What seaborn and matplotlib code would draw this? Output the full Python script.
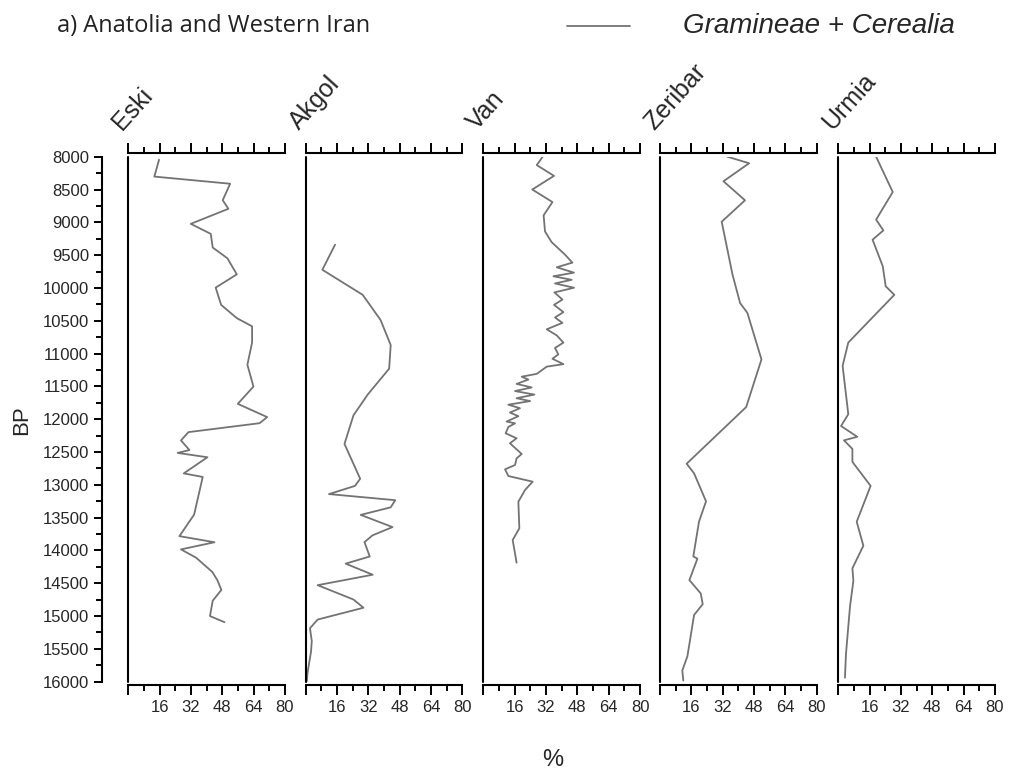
import pandas as pd
import seaborn as sns
import matplotlib.pyplot as plt
from matplotlib.lines import Line2D
from matplotlib.ticker import MultipleLocator

# pollen percentages (Gramineae + Cerealia) vs age BP
sites = ["Eski", "Akgol", "Van", "Zeribar", "Urmia"]

eski_bp = [8046, 8303, 8412, 8663, 8794, 9023, 9176, 9384, 9548, 9793, 9995,
           10258, 10460, 10585, 10831, 11170, 11503, 11766, 11968, 12061, 12197,
           12323, 12470, 12514, 12580, 12826, 12880, 13454, 13782, 13875, 13984,
           14110, 14328, 14454, 14602, 14766, 15000, 15093]
eski_pct = [15.7, 13.3, 52.0, 48.2, 51.1, 31.9, 42.1, 43.1, 50.6, 55.4, 44.6,
            47.4, 55.4, 63.2, 63.2, 60.8, 63.9, 55.9, 70.9, 67.0, 30.7,
            26.9, 31.2, 25.2, 40.4, 28.3, 38.0, 33.6, 26.1, 44.0, 26.9,
            34.6, 42.9, 45.5, 47.5, 43.1, 41.7, 49.1]

akgol_bp = [9340, 9723, 10105, 10487, 10870, 11230, 11623, 11940, 12377, 12907,
            13016, 13141, 13234, 13343, 13458, 13644, 13770, 13873, 14092, 14201,
            14370, 14529, 14748, 14873, 15053, 15185, 15381, 15545, 15873, 15990]
akgol_pct = [15.0, 8.5, 29.1, 38.2, 43.4, 42.6, 31.7, 24.4, 19.8, 27.8,
             25.2, 11.9, 45.7, 43.4, 28.1, 44.3, 34.1, 30.0, 32.7, 20.4,
             34.2, 6.1, 24.4, 29.5, 6.1, 2.2, 3.1, 2.7, 0.9, 0.6]

van_bp = [8000, 8128, 8292, 8500, 8691, 8893, 9139, 9303, 9483, 9614, 9685,
          9767, 9822, 9876, 9931, 9997, 10068, 10177, 10258, 10368, 10450,
          10532, 10630, 10723, 10833, 10915, 11013, 11079, 11161, 11199, 11309,
          11352, 11396, 11462, 11516, 11571, 11625, 11680, 11724, 11779, 11833,
          11899, 11954, 12036, 12063, 12118, 12215, 12291, 12367, 12530, 12596,
          12698, 12764, 12866, 12952, 13079, 13257, 13663, 13841, 14187]
van_pct = [30.3, 27.3, 36.1, 25.0, 35.3, 30.8, 31.5, 34.9, 41.4, 45.5, 37.5,
           46.3, 35.8, 45.1, 36.6, 46.3, 36.3, 40.4, 36.1, 40.9, 36.6,
           40.4, 32.4, 37.5, 40.9, 36.6, 38.3, 35.3, 40.9, 32.4, 27.3,
           19.6, 23.0, 17.0, 24.7, 16.2, 26.1, 17.0, 23.9, 12.8, 18.7,
           13.6, 17.9, 11.9, 16.2, 12.8, 11.4, 17.0, 13.6, 19.6, 17.0,
           16.2, 11.1, 12.8, 25.2, 21.3, 17.9, 18.4, 15.0, 17.0]

zeribar_bp = [8000, 8100, 8374, 8664, 8991, 9794, 10231, 10379, 11089, 11815,
              12678, 12825, 13251, 13563, 14092, 14125, 14452, 14655, 14819,
              14983, 15611, 15829, 15982]
zeribar_pct = [34.4, 45.5, 32.4, 43.4, 31.5, 37.0, 40.9, 44.6, 51.8, 44.0,
               13.6, 17.4, 23.5, 19.9, 17.0, 19.1, 15.0, 20.8, 21.8,
               17.4, 14.0, 11.4, 11.9]

urmia_bp = [8000, 8538, 8959, 9123, 9265, 9669, 9974, 10105, 10832, 11187,
            11924, 12104, 12268, 12322, 12453, 12650, 13016, 13562, 13928,
            14272, 14463, 14846, 15583, 15938]
urmia_pct = [19.3, 27.8, 19.3, 23.0, 17.5, 22.7, 24.2, 28.6, 5.1, 2.2,
             5.1, 1.4, 9.7, 2.9, 7.2, 7.2, 16.5, 9.4, 12.8,
             7.2, 7.7, 6.0, 3.9, 3.4]

x_ticks = [0, 16, 32, 48, 64, 80]
x_labels = ["", "16", "32", "48", "64", "80"]

series = {
    "Eski": (eski_bp, eski_pct),
    "Akgol": (akgol_bp, akgol_pct),
    "Van": (van_bp, van_pct),
    "Zeribar": (zeribar_bp, zeribar_pct),
    "Urmia": (urmia_bp, urmia_pct),
}

sns.set_style("ticks")
plt.rcParams["font.family"] = ["Liberation Sans", "DejaVu Sans"]

W, H = 1011, 774
fig = plt.figure(figsize=(W / 100, H / 100), dpi=100)

line_col = "#737373"
lefts = [128.3, 305.7, 483.3, 660.0, 838.3]
panel_w = 156.7
top_px, bot_px = 156.7, 681.7

for i, name in enumerate(sites):
    bp, pct = series[name]
    df = pd.DataFrame({"BP": bp, "pct": pct})
    ax = fig.add_axes([lefts[i] / W, 1 - bot_px / H, panel_w / W, (bot_px - top_px) / H])
    sns.lineplot(data=df, x="pct", y="BP", ax=ax, sort=False, estimator=None,
                 color=line_col, lw=1.3)
    ax.set_xlim(0, 80)
    ax.set_ylim(16000, 8000)
    ax.set_xlabel("")
    ax.set_ylabel("")

    ax.spines["right"].set_visible(False)
    for s in ["top", "bottom"]:
        ax.spines[s].set_position(("outward", 2.5))
        ax.spines[s].set_linewidth(1.5)
        ax.spines[s].set_color("black")
    ax.axvline(0, color="black", lw=1.5, clip_on=False)

    ax.set_xticks(x_ticks, x_labels)
    ax.xaxis.set_minor_locator(MultipleLocator(8))
    ax.tick_params(axis="x", which="both", top=True, bottom=True, labeltop=False,
                   labelbottom=True, direction="out", width=1.4, color="black",
                   labelsize=12, pad=4)
    ax.tick_params(axis="x", which="major", length=7)
    ax.tick_params(axis="x", which="minor", length=4)

    if i == 0:
        ax.spines["left"].set_position(("outward", 19.2))
        ax.spines["left"].set_linewidth(1.5)
        ax.spines["left"].set_color("black")
        ax.yaxis.set_major_locator(MultipleLocator(500))
        ax.yaxis.set_minor_locator(MultipleLocator(250))
        ax.tick_params(axis="y", which="both", direction="out", width=1.4,
                       color="black", labelsize=12, pad=3)
        ax.tick_params(axis="y", which="major", length=6)
        ax.tick_params(axis="y", which="minor", length=4)
    else:
        ax.spines["left"].set_visible(False)
        ax.tick_params(axis="y", which="both", left=False, labelleft=False)

    fig.text((lefts[i] - 6) / W, 1 - 131 / H, name, rotation=48,
             rotation_mode="anchor", ha="left", va="baseline", fontsize=18)

fig.text(57 / W, 1 - 31.7 / H, "a) Anatolia and Western Iran",
         family=["Open Sans", "DejaVu Sans"], fontsize=17, color="#222222",
         va="baseline", ha="left")

fig.add_artist(Line2D([567 / W, 630 / W], [1 - 26 / H, 1 - 26 / H],
                      color=line_col, lw=1.3))
fig.text(683 / W, 1 - 26 / H, "Gramineae + Cerealia", style="italic",
         fontsize=20, ha="left", va="center")

fig.text(553 / W, 1 - 760 / H, "%", fontsize=17, ha="center", va="center")
fig.text(22 / W, 1 - 420 / H, "BP", rotation=90, fontsize=16,
         ha="center", va="center")

fig.savefig("out.png", dpi=100)
